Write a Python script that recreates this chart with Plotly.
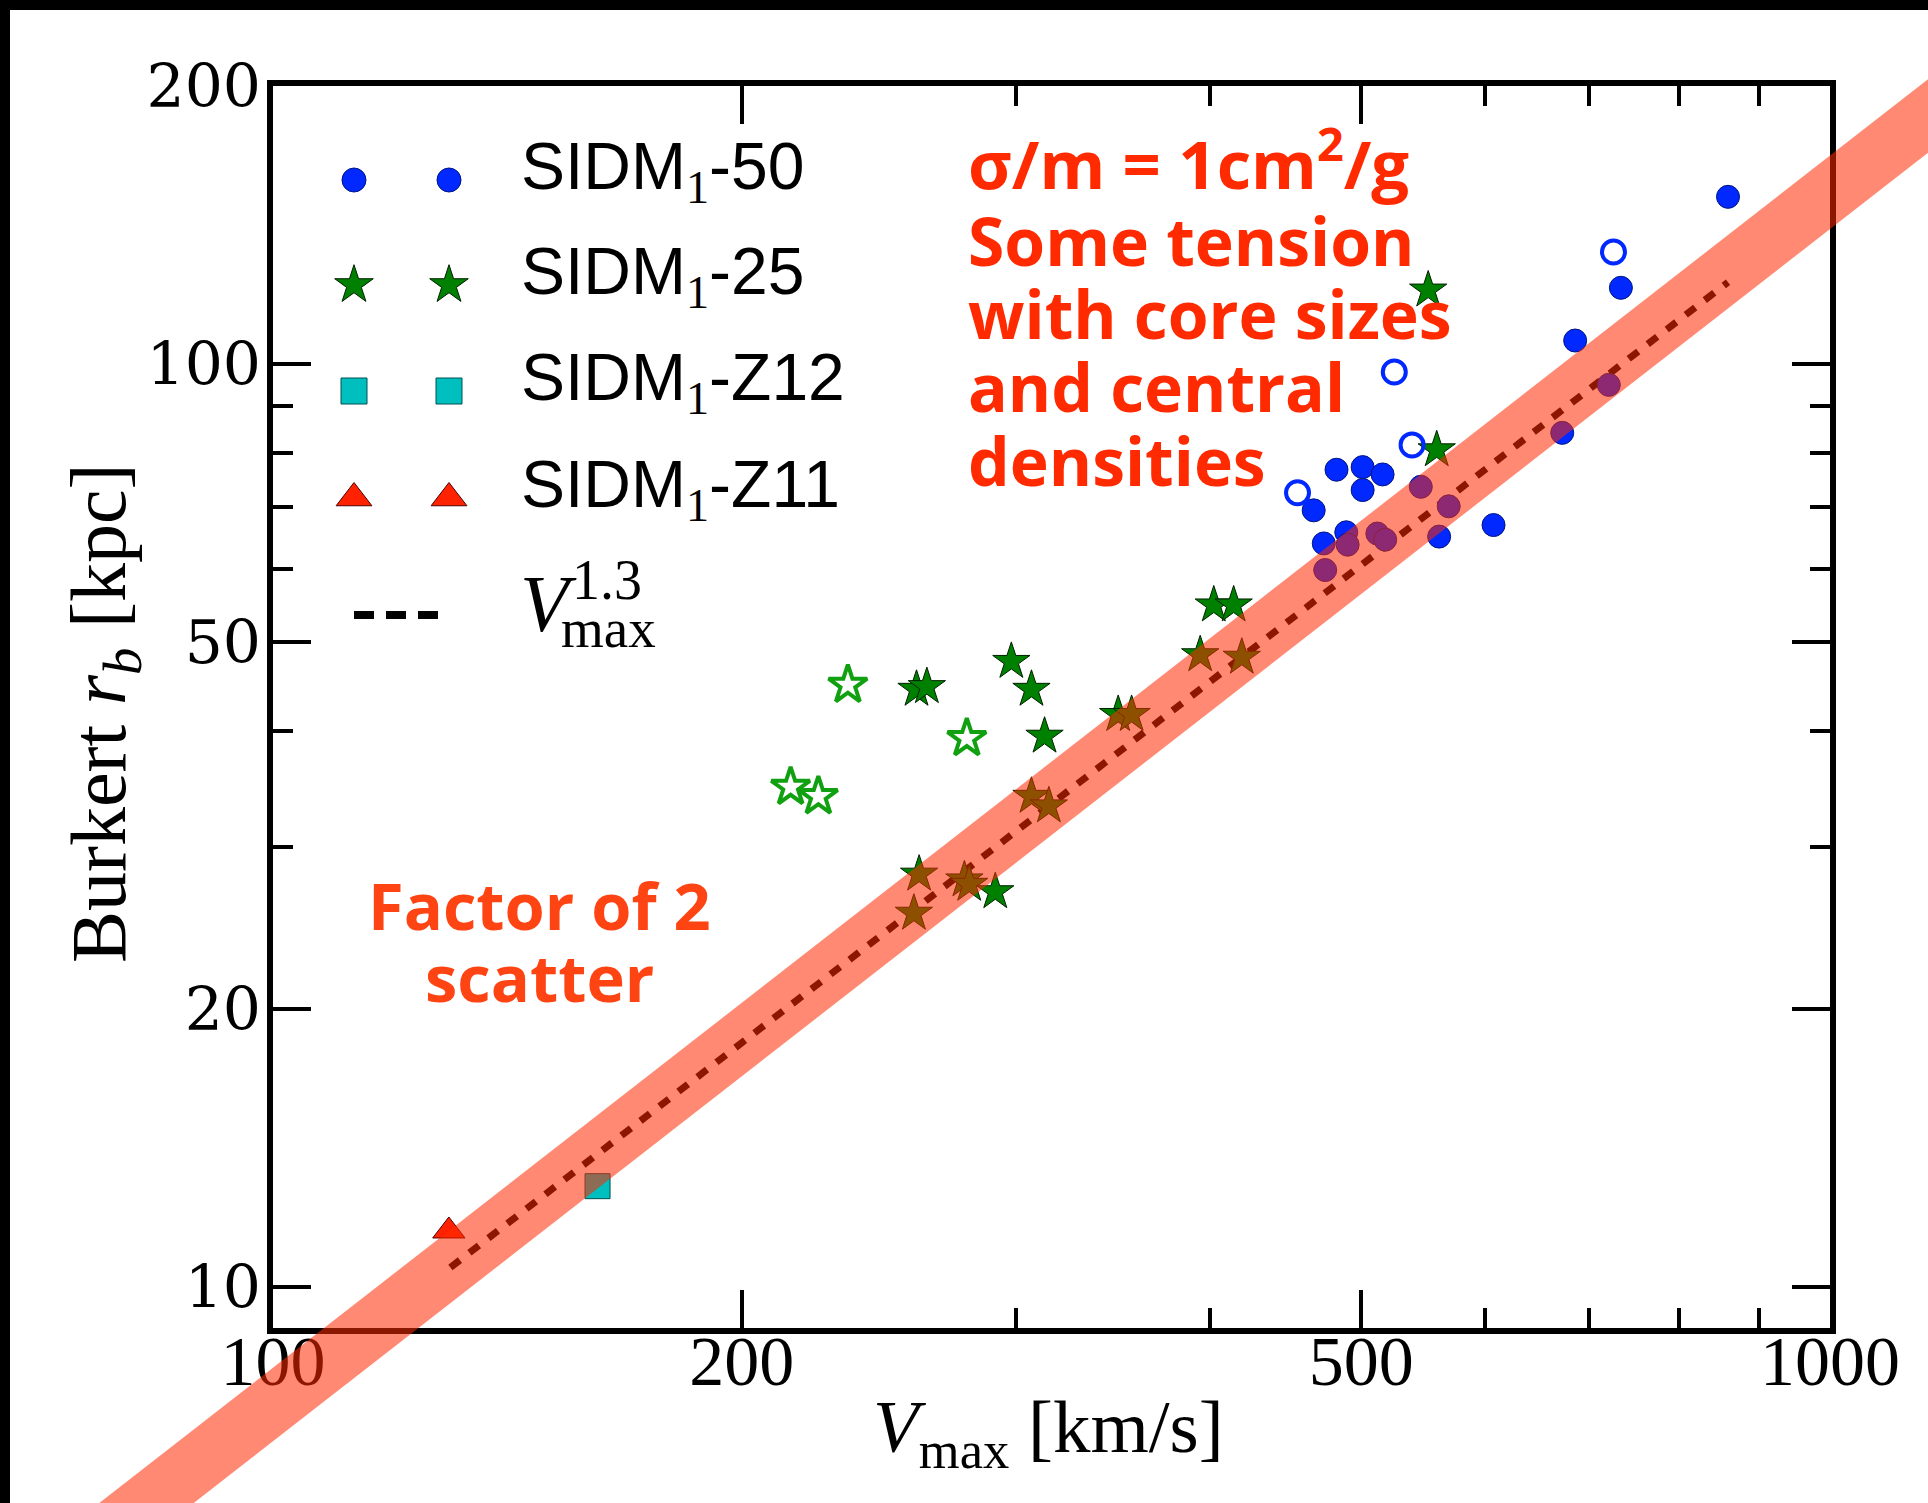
import plotly.graph_objects as go

# ---------------- data ----------------
sidm50_v = [860, 734, 686, 721, 673, 608, 561, 569, 546, 482, 501, 516, 501, 466, 473, 489, 490, 512, 518, 474]
sidm50_rb = [151.7, 120.9, 106.0, 94.9, 84.2, 66.9, 65.0, 70.1, 73.6, 76.8, 77.3, 75.9, 73.0, 69.4, 63.9, 65.7, 63.7, 65.5, 64.5, 59.8]

sidm50_open_v = [726, 525, 539, 455]
sidm50_open_rb = [132.2, 98.0, 81.7, 72.5]

sidm25_v = [552, 559, 402, 414, 394, 419, 298, 307, 259, 263, 313, 349, 356, 307, 315, 260, 278, 280, 291, 258]
sidm25_rb = [120.2, 80.7, 54.8, 54.8, 48.4, 48.1, 47.6, 44.4, 44.4, 44.7, 39.5, 41.7, 41.7, 34.0, 33.2, 28.0, 27.6, 27.3, 26.8, 25.4]

sidm25_open_v = [234, 279, 215, 224]
sidm25_open_rb = [44.9, 39.3, 34.8, 34.0]

z12_v = [161.6]
z12_rb = [12.86]

z11_v = [129.7]
z11_rb = [11.5]

fit_v = [130, 860]
fit_rb = [10.5, 122.6]

x_ticks = [100, 200, 500, 1000]
x_minor = [300, 400, 600, 700, 800, 900]
y_ticks = [10, 20, 50, 100, 200]
y_minor = [30, 40, 60, 70, 80, 90]

SUB1 = "<sub><span style='font-family:Liberation Serif;fill:black'>1</span></sub>"
legend_labels = ["SIDM" + SUB1 + "-50",
                 "SIDM" + SUB1 + "-25",
                 "SIDM" + SUB1 + "-Z12",
                 "SIDM" + SUB1 + "-Z11"]

note_lines = ["σ/m = 1cm<sup>2</sup>/g", "Some tension", "with core sizes", "and central", "densities"]
scatter_lines = ["Factor of 2", "scatter"]

x_title = "<i>V</i><sub>max</sub> [km/s]"
y_title = "Burkert <i>r<sub>b</sub></i> [kpc]"

# ---------------- styles ----------------
BLUE = "#0028ff"
GREEN = "#008000"
CYAN = "#00bfbf"
RED = "#ff2200"
BAND = "rgb(255,42,0)"

W, H = 1928, 1503
ML, MR, MT, MB = 273, 98, 86, 175
PW, PH = W - ML - MR, H - MT - MB


def px_x(p):
    return (p - ML) / PW


def px_y(p):
    return (H - MB - p) / PH


fig = go.Figure()

# fit line V^1.3
fig.add_trace(go.Scatter(x=fit_v, y=fit_rb, mode="lines",
                         line=dict(color="black", width=7, dash="12px,12px"),
                         showlegend=False))

fig.add_trace(go.Scatter(x=sidm25_v, y=sidm25_rb, mode="markers",
                         marker=dict(symbol="star", size=28, color=GREEN,
                                     line=dict(color="#002000", width=1)),
                         showlegend=False))
fig.add_trace(go.Scatter(x=sidm25_open_v, y=sidm25_open_rb, mode="markers",
                         marker=dict(symbol="star-open", size=29, color="#10a010",
                                     line=dict(color="#10a010", width=4)),
                         showlegend=False))
fig.add_trace(go.Scatter(x=sidm50_v, y=sidm50_rb, mode="markers",
                         marker=dict(symbol="circle", size=23, color=BLUE,
                                     line=dict(color="#001580", width=1)),
                         showlegend=False))
fig.add_trace(go.Scatter(x=sidm50_open_v, y=sidm50_open_rb, mode="markers",
                         marker=dict(symbol="circle-open", size=23, color=BLUE,
                                     line=dict(color=BLUE, width=4)),
                         showlegend=False))
fig.add_trace(go.Scatter(x=z12_v, y=z12_rb, mode="markers",
                         marker=dict(symbol="square", size=25, color=CYAN,
                                     line=dict(color="#005050", width=1)),
                         showlegend=False))
fig.add_trace(go.Scatter(x=z11_v, y=z11_rb, mode="markers",
                         marker=dict(symbol="triangle-up", size=28, color=RED,
                                     line=dict(color="#500000", width=1)),
                         showlegend=False))

# ---------------- manual legend (two keys per entry, like the original) ----------------
key_x = [px_x(354), px_x(449)]
row_y = [px_y(180), px_y(285), px_y(391), px_y(498)]
key_styles = [
    dict(symbol="circle", size=24, color=BLUE, line=dict(color="#001580", width=1)),
    dict(symbol="star", size=29, color=GREEN, line=dict(color="#002000", width=1)),
    dict(symbol="square", size=26, color=CYAN, line=dict(color="#005050", width=1)),
    dict(symbol="triangle-up", size=31, color=RED, line=dict(color="#500000", width=1)),
]
for ry, st in zip(row_y, key_styles):
    fig.add_trace(go.Scatter(x=key_x, y=[ry, ry], mode="markers", marker=st,
                             xaxis="x2", yaxis="y2", showlegend=False, hoverinfo="skip"))
fig.add_trace(go.Scatter(x=[px_x(354), px_x(440)], y=[px_y(615), px_y(615)], mode="lines",
                         line=dict(color="black", width=8, dash="20px,12px"),
                         xaxis="x2", yaxis="y2", showlegend=False, hoverinfo="skip"))

annotations = []
for ry, lab in zip(row_y, legend_labels):
    annotations.append(dict(x=px_x(519), y=ry + 9 / PH, xref="paper", yref="paper", text=lab,
                            showarrow=False, xanchor="left", yanchor="middle",
                            font=dict(family="Liberation Sans", size=66, color="black")))
annotations.append(dict(x=px_x(518), y=px_y(604), xref="paper", yref="paper", text="<i>V</i>",
                        showarrow=False, xanchor="left", yanchor="middle",
                        font=dict(family="Liberation Serif", size=80, color="black")))
annotations.append(dict(x=px_x(570), y=px_y(580), xref="paper", yref="paper", text="1.3",
                        showarrow=False, xanchor="left", yanchor="middle",
                        font=dict(family="Liberation Serif", size=56, color="black")))
annotations.append(dict(x=px_x(559), y=px_y(628), xref="paper", yref="paper", text="max",
                        showarrow=False, xanchor="left", yanchor="middle",
                        font=dict(family="Liberation Serif", size=55, color="black")))

# ---------------- axis titles ----------------
annotations.append(dict(x=px_x(1048), y=px_y(1432), xref="paper", yref="paper", text=x_title,
                        showarrow=False, xanchor="center", yanchor="middle",
                        font=dict(family="Liberation Serif", size=75, color="black")))
annotations.append(dict(x=px_x(104), y=px_y(713), xref="paper", yref="paper", text=y_title,
                        showarrow=False, xanchor="center", yanchor="middle", textangle=-90,
                        font=dict(family="Liberation Serif", size=78, color="black")))

# ---------------- red notes ----------------
note_y = [160, 240, 313, 386, 460]
for t, ny in zip(note_lines, note_y):
    annotations.append(dict(x=px_x(966), y=px_y(ny), xref="paper", yref="paper",
                            text=t, showarrow=False, xanchor="left", yanchor="middle",
                            font=dict(family="Open Sans", size=67 if ny == note_y[0] else 66,
                                      color="#ff2a00", weight=700)))
for i, t in enumerate(scatter_lines):
    annotations.append(dict(x=px_x(539), y=px_y(905 + 72 * i), xref="paper", yref="paper",
                            text=t, showarrow=False, xanchor="center", yanchor="middle",
                            font=dict(family="Open Sans", size=65, color="#ff4414", weight=700)))

# ---------------- shapes: band + black frame strips ----------------
shapes = [
    dict(type="line", xref="paper", yref="paper", x0=-0.2, y0=-0.2568, x1=1.15, y1=1.0608,
         line=dict(color=BAND, width=58), opacity=0.55, layer="above"),
    dict(type="rect", xref="paper", yref="paper", x0=px_x(-20), x1=px_x(10), y0=px_y(H + 20), y1=px_y(-20),
         fillcolor="black", line=dict(width=0), layer="above"),
    dict(type="rect", xref="paper", yref="paper", x0=px_x(-20), x1=px_x(W + 20), y0=px_y(10), y1=px_y(-20),
         fillcolor="black", line=dict(width=0), layer="above"),
]

axis_common = dict(showgrid=False, zeroline=False, showline=True, linecolor="black", linewidth=6,
                   mirror="allticks", ticks="inside", ticklen=38, tickwidth=4, tickcolor="black")

fig.update_layout(
    width=W, height=H,
    margin=dict(l=ML, r=MR, t=MT, b=MB, pad=0),
    paper_bgcolor="white", plot_bgcolor="white",
    showlegend=False,
    xaxis=dict(type="log", range=[2, 3], tickvals=x_ticks, ticktext=[str(v) for v in x_ticks],
               tickfont=dict(family="Liberation Serif", size=70, color="black"),
               minor=dict(tickvals=x_minor, ticks="inside", ticklen=20, tickwidth=4, tickcolor="black",
                          showgrid=False),
               ticklabelstandoff=-33,
               **axis_common),
    yaxis=dict(type="log", range=[0.9556, 2.30103], tickvals=y_ticks, ticktext=[str(v) for v in y_ticks],
               tickfont=dict(family="DejaVu Serif", size=60, color="black"),
               minor=dict(tickvals=y_minor, ticks="inside", ticklen=20, tickwidth=4, tickcolor="black",
                          showgrid=False),
               ticklabelstandoff=-6,
               **axis_common),
    xaxis2=dict(overlaying="x", anchor="y2", range=[0, 1], visible=False, fixedrange=True),
    yaxis2=dict(overlaying="y", anchor="x2", range=[0, 1], visible=False, fixedrange=True),
    annotations=annotations,
    shapes=shapes,
)

fig.write_html("out.html")
